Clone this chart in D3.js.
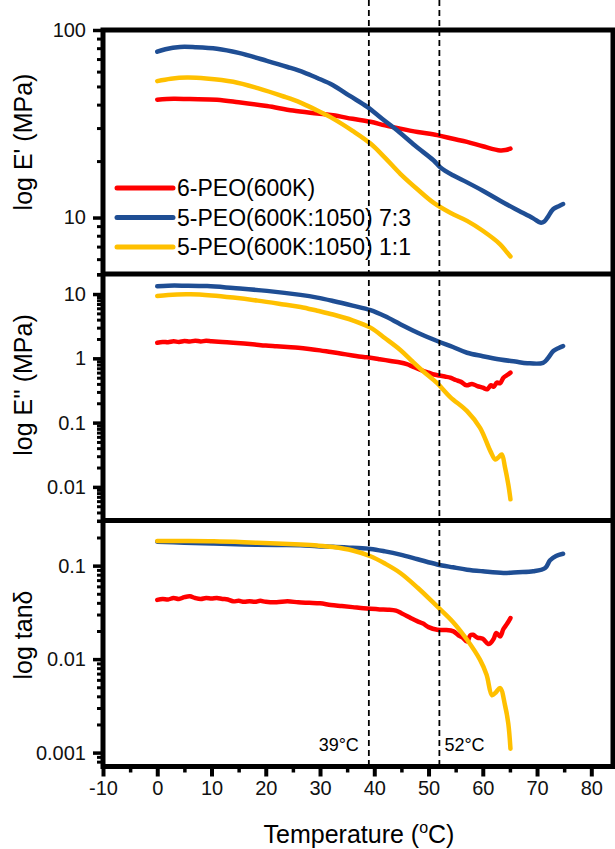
<!DOCTYPE html>
<html>
<head>
<meta charset="utf-8">
<script src="https://cdn.jsdelivr.net/npm/d3@7"></script>
<style>
  html, body { margin: 0; padding: 0; background: #fff; }
  svg { display: block; font-family: "Liberation Sans", Arial, sans-serif; }
</style>
</head>
<body>
<svg id="chart" width="615" height="849"></svg>
<script>
// ---- Data: temperature (°C) vs. modulus / loss factor ----
const seriesNames = ["6-PEO(600K)", "5-PEO(600K:1050) 7:3", "5-PEO(600K:1050) 1:1"];
const xTicks = [-10, 0, 10, 20, 30, 40, 50, 60, 70, 80];
const eStorageTicks = [10, 100];
const eLossTicks = [0.01, 0.1, 1, 10];
const tanTicks = [0.001, 0.01, 0.1];
const markerTemps = [39, 52];

// Storage modulus E' (MPa)
const storageRed = [[0,42.5],[3,43],[6,42.8],[11,42.5],[15,41.2],[20.2,39.3],[25,37.2],[29.5,35.9],[32.4,35.1],[36,33.6],[39.3,32.4],[42,31],[44.8,29.8],[48,28.6],[51.6,27.5],[54.5,26.3],[57.1,25.3],[60,24],[63.2,22.8],[64.2,22.9],[65.1,23.3]];
const storageBlue = [[0,76.6],[1.5,79],[4.2,81.2],[7,81],[11,79.5],[15,75.5],[20.2,68.5],[24,63.5],[27,59.5],[29.5,55.5],[32.4,50.8],[35.5,44.5],[38.7,38.9],[41.5,33.5],[44.2,29.2],[47.5,24.2],[50.9,20.2],[52.2,18.5],[54.5,16.8],[57.1,15.4],[60,13.9],[63.2,12.3],[66,11.1],[69.3,9.9],[70.6,9.4],[71.3,9.5],[71.9,10],[73,11.1],[74,11.5],[74.8,11.8]];
const storageYellow = [[0,53.4],[2.5,55],[5.5,55.8],[9,55.2],[14,53],[18.5,49],[23.3,44.2],[26.4,41],[29.5,37.2],[32.4,33.7],[36,29],[39.3,24.8],[42,20.8],[44.8,17.1],[48,14.1],[50.9,12],[54,10.6],[57.1,9.6],[60,8.5],[63.2,7.2],[64.3,6.6],[65.1,6.2]];

// Loss modulus E'' (MPa)
const lossRed = [[0,1.75],[1,1.8],[2,1.78],[3,1.84],[4,1.8],[5,1.86],[6,1.82],[7,1.88],[8,1.83],[9,1.87],[10,1.84],[12,1.79],[14,1.75],[16,1.7],[18,1.64],[20,1.58],[22,1.54],[24,1.5],[26,1.46],[28,1.4],[30,1.33],[32,1.25],[34,1.18],[36,1.11],[38,1.05],[39.3,1.02],[41,0.97],[43,0.91],[44.8,0.86],[46,0.81],[47,0.75],[48,0.69],[49,0.64],[50,0.6],[51,0.56],[52,0.54],[53,0.52],[54,0.5],[55,0.46],[56,0.43],[57,0.38],[58,0.4],[59,0.37],[60,0.35],[60.8,0.33],[61.5,0.38],[62,0.36],[62.6,0.42],[63.2,0.41],[63.8,0.5],[64.5,0.55],[65.1,0.6]];
const lossBlue = [[0,13.2],[2,13.5],[5,13.5],[9.2,13.3],[14,12.4],[20.2,11.2],[26.4,9.7],[29.5,8.8],[32.4,7.8],[36,6.6],[39.3,5.6],[42,4.5],[44.8,3.4],[48,2.5],[51.6,1.86],[54.5,1.5],[57.1,1.22],[60,1.08],[63.2,0.96],[66,0.89],[68.2,0.84],[71.1,0.85],[72,1.0],[73,1.3],[74,1.45],[74.8,1.55]];
const lossYellow = [[0,9.3],[2,9.7],[6.1,9.9],[10,9.5],[14,8.8],[18.5,7.9],[23.3,6.9],[26.4,6.3],[29.5,5.5],[32.4,4.8],[36,3.9],[39.3,3.0],[42,2.05],[44.8,1.35],[47,0.9],[49,0.63],[51.6,0.41],[54,0.25],[57.1,0.151],[59.5,0.083],[61.4,0.036],[62.3,0.0267],[62.9,0.029],[63.5,0.032],[64.1,0.02],[64.7,0.0109],[65.1,0.0064]];

// Loss factor tan δ
const tanRed = [[0,0.043],[1,0.044],[2,0.0435],[3,0.045],[4,0.044],[5,0.046],[6,0.047],[7,0.045],[8,0.044],[9,0.045],[10,0.0445],[11,0.045],[12,0.044],[13,0.0435],[14,0.0415],[15,0.042],[16,0.041],[17,0.0415],[18,0.041],[19,0.042],[20,0.041],[22,0.0405],[24,0.0415],[26,0.0405],[28,0.04],[30,0.0395],[32,0.038],[34,0.037],[36,0.036],[38,0.035],[39.3,0.0345],[41,0.034],[42.5,0.0338],[44,0.033],[45,0.031],[46,0.029],[47,0.027],[47.9,0.0255],[49,0.024],[50,0.022],[51.6,0.0206],[53,0.0205],[54.6,0.0198],[55.5,0.018],[56.3,0.017],[57.1,0.0154],[57.7,0.018],[58.2,0.0182],[59,0.017],[60,0.0165],[61,0.0145],[61.4,0.0148],[62,0.0165],[62.5,0.019],[63.2,0.0175],[63.8,0.021],[64.5,0.024],[65.1,0.0275]];
const tanBlue = [[0,0.18],[5,0.176],[10.4,0.172],[16,0.168],[22,0.166],[26.4,0.165],[29.5,0.161],[32.4,0.159],[36,0.155],[39.3,0.151],[42,0.142],[44.8,0.131],[48,0.117],[51.6,0.103],[54.5,0.096],[57.1,0.0906],[60,0.087],[63.8,0.0835],[66.5,0.085],[69.3,0.087],[71.5,0.0945],[72.4,0.114],[73.5,0.127],[74.8,0.134]];
const tanYellow = [[0,0.183],[5,0.183],[10.4,0.182],[16,0.178],[22,0.172],[26.4,0.168],[29.5,0.164],[32.4,0.158],[36,0.145],[39.3,0.126],[42,0.105],[44.8,0.0835],[48,0.058],[51.6,0.0366],[54.5,0.025],[57.1,0.0161],[59.5,0.0098],[60.7,0.0068],[61.7,0.0041],[62.4,0.0044],[63.2,0.0049],[64.1,0.0032],[64.7,0.00205],[65.1,0.0011]];

// ---- Layout ----
const colors = ["#ff0000", "#1f4e94", "#ffc000"];
const left = 103, right = 613;
const svg = d3.select("#chart");

const x = d3.scaleLinear().domain([-10, 84]).range([left, right]);

const panels = [
  { domain: [5, 100], top: 30, bottom: 274, ticks: eStorageTicks, title: "log E' (MPa)", titleY: 142,
    data: [storageRed, storageBlue, storageYellow] },
  { domain: [0.003, 20.5], top: 274, bottom: 520.5, ticks: eLossTicks, title: "log E'' (MPa)", titleY: 385,
    data: [lossRed, lossBlue, lossYellow] },
  { domain: [0.00071, 0.304], top: 520.5, bottom: 766.5, ticks: tanTicks, title: "log tanδ", titleY: 635,
    data: [tanRed, tanBlue, tanYellow] }
];

function minorTicks(domain) {
  const out = [];
  const lo = Math.floor(Math.log10(domain[0])), hi = Math.ceil(Math.log10(domain[1]));
  for (let e = lo; e <= hi; e++) {
    for (let k = 2; k <= 9; k++) {
      const v = k * Math.pow(10, e);
      if (v >= domain[0] && v <= domain[1]) out.push(v);
    }
  }
  return out;
}

const fmt = v => (v >= 1 ? String(Math.round(v)) : String(+v.toPrecision(1)));

panels.forEach(p => {
  const y = d3.scaleLog().domain(p.domain).range([p.bottom, p.top]);

  // minor ticks
  const minor = svg.append("g").attr("transform", `translate(${left},0)`)
    .call(d3.axisLeft(y).tickValues(minorTicks(p.domain)).tickSize(6).tickFormat(""));
  minor.select(".domain").remove();
  minor.selectAll(".tick line").attr("stroke", "#000").attr("stroke-width", 3);

  // major ticks with labels
  const major = svg.append("g").attr("transform", `translate(${left},0)`)
    .call(d3.axisLeft(y).tickValues(p.ticks).tickSize(10).tickPadding(7).tickFormat(fmt));
  major.select(".domain").remove();
  major.selectAll(".tick line").attr("stroke", "#000").attr("stroke-width", 3.5);
  major.selectAll(".tick text").attr("font-size", 20).attr("fill", "#111")
    .attr("font-family", "'Liberation Sans', Arial, sans-serif");

  // axis title
  svg.append("text")
    .attr("transform", `translate(32,${p.titleY}) rotate(-90)`)
    .attr("text-anchor", "middle")
    .attr("font-size", 25)
    .text(p.title);

  // curves
  const line = d3.line().x(d => x(d[0])).y(d => y(d[1])).curve(d3.curveCatmullRom.alpha(0.5));
  p.data.forEach((s, i) => {
    svg.append("path")
      .datum(s)
      .attr("d", line)
      .attr("fill", "none")
      .attr("stroke", colors[i])
      .attr("stroke-width", 4.5)
      .attr("stroke-linejoin", "round")
      .attr("stroke-linecap", "round");
  });
});

// x axis: major and minor ticks
const xMinor = svg.append("g").attr("transform", `translate(0,766.5)`)
  .call(d3.axisBottom(x).tickValues(xTicks.map(t => t + 5)).tickSize(6).tickFormat(""));
xMinor.select(".domain").remove();
xMinor.selectAll(".tick line").attr("stroke", "#000").attr("stroke-width", 3.5);

const xMajor = svg.append("g").attr("transform", `translate(0,766.5)`)
  .call(d3.axisBottom(x).tickValues(xTicks).tickSize(10).tickPadding(4).tickFormat(d => String(d)));
xMajor.select(".domain").remove();
xMajor.selectAll(".tick line").attr("stroke", "#000").attr("stroke-width", 4);
xMajor.selectAll(".tick text").attr("font-size", 20).attr("fill", "#111")
  .attr("font-family", "'Liberation Sans', Arial, sans-serif");

// x axis title
const xt = svg.append("text")
  .attr("x", 359).attr("y", 843)
  .attr("text-anchor", "middle")
  .attr("font-size", 25);
xt.append("tspan").text("Temperature (");
xt.append("tspan").attr("font-size", 16).attr("dy", -10).text("o");
xt.append("tspan").attr("dy", 10).text("C)");

// transition temperature markers
markerTemps.forEach(t => {
  svg.append("line")
    .attr("x1", x(t)).attr("x2", x(t))
    .attr("y1", 0).attr("y2", 766)
    .attr("stroke", "#000")
    .attr("stroke-width", 1.8)
    .attr("stroke-dasharray", "6,4");
});
svg.append("text").attr("x", x(markerTemps[0]) - 10).attr("y", 751)
  .attr("text-anchor", "end").attr("font-size", 18).text(markerTemps[0] + "°C");
svg.append("text").attr("x", x(markerTemps[1]) + 5).attr("y", 751)
  .attr("text-anchor", "start").attr("font-size", 18).text(markerTemps[1] + "°C");

// frame and panel separators
svg.append("rect")
  .attr("x", left).attr("y", 30)
  .attr("width", right - left).attr("height", 766.5 - 30)
  .attr("fill", "none").attr("stroke", "#000").attr("stroke-width", 5);
[274, 520.5].forEach(yy => {
  svg.append("line").attr("x1", left).attr("x2", right).attr("y1", yy).attr("y2", yy)
    .attr("stroke", "#000").attr("stroke-width", 5);
});

// legend
const legend = svg.append("g");
seriesNames.forEach((name, i) => {
  const yy = 188 + i * 29.5;
  legend.append("line")
    .attr("x1", 117).attr("x2", 173).attr("y1", yy).attr("y2", yy)
    .attr("stroke", colors[i]).attr("stroke-width", 5).attr("stroke-linecap", "round");
  legend.append("text")
    .attr("x", 177).attr("y", yy + 8)
    .attr("font-size", 23)
    .text(name);
});
</script>
</body>
</html>
